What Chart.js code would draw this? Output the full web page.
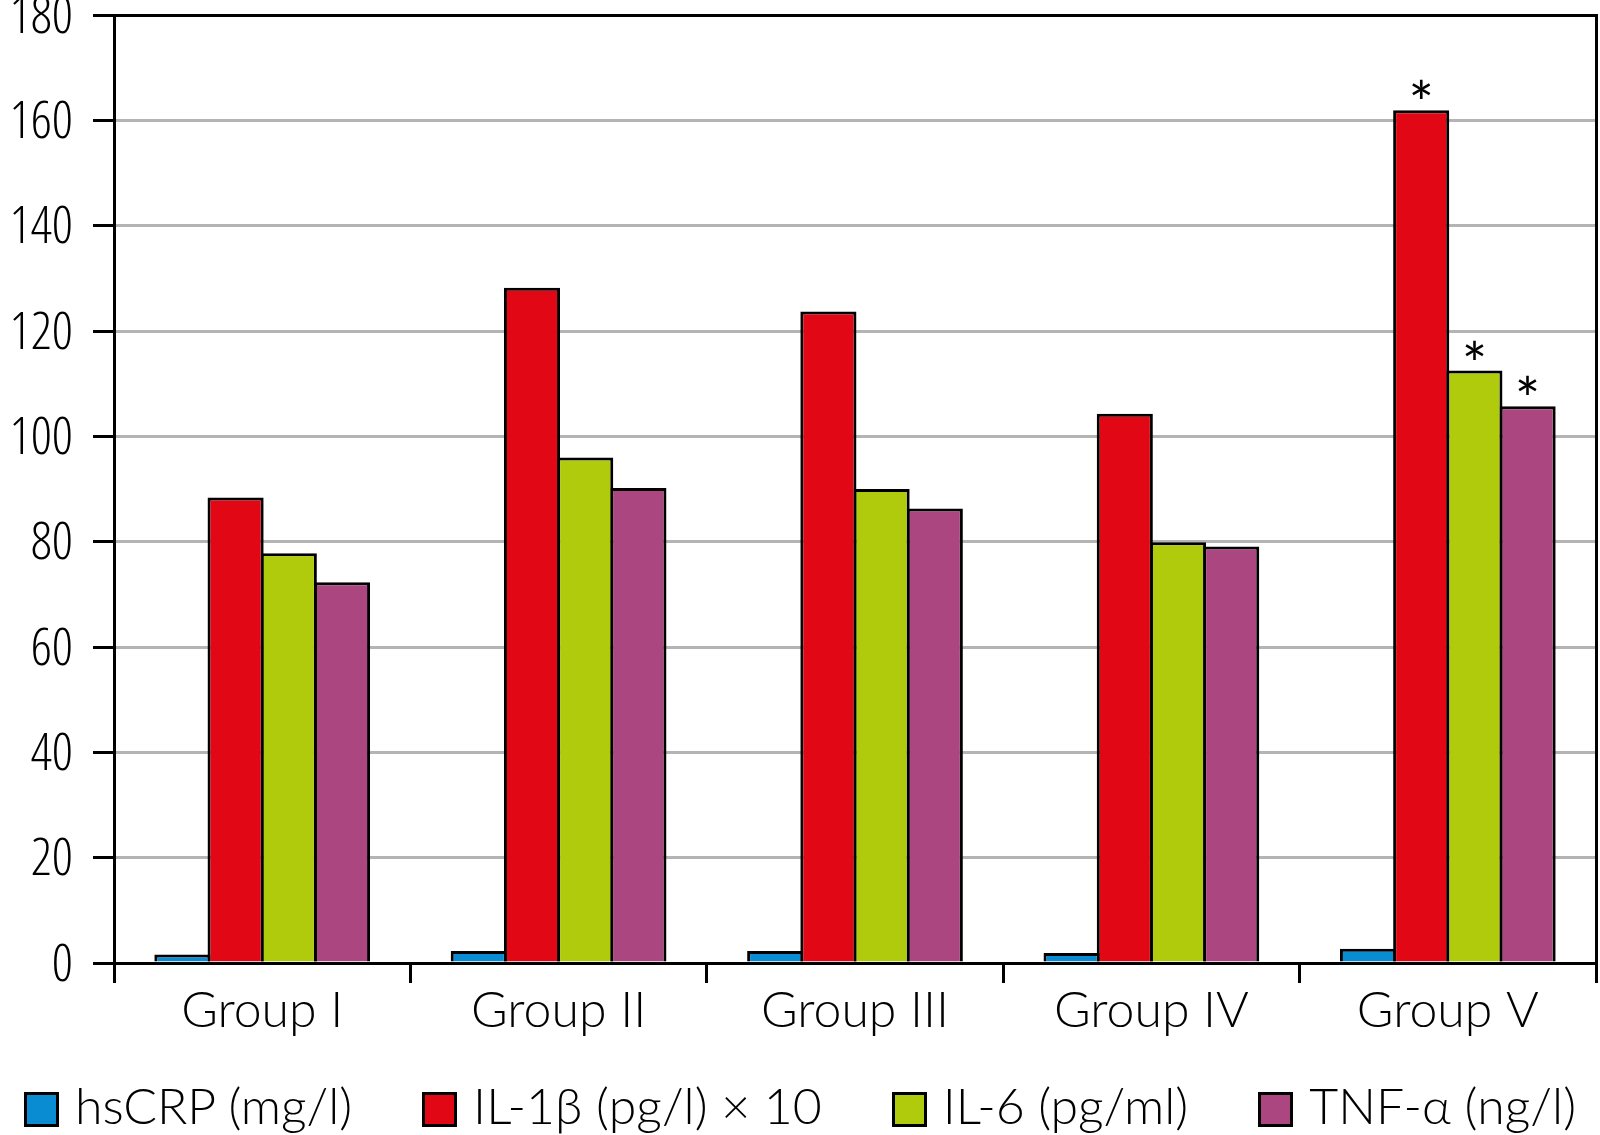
<!DOCTYPE html>
<html>
<head>
<meta charset="utf-8">
<script src="https://cdn.jsdelivr.net/npm/chart.js@4.4.1/dist/chart.umd.min.js"></script>
<style>
    html, body { margin: 0; padding: 0; background: #fff; }
    #wrap { position: relative; width: 1600px; height: 1135px; }
    #legend {
        position: absolute; left: 0; top: 1078px; width: 1600px; height: 54px;
        display: flex; justify-content: center; align-items: center; gap: 70px;
        font-family: Lato, sans-serif; font-weight: 300; font-size: 50px; line-height: 54px; color: #000;
    }
    .item { display: flex; align-items: center; white-space: nowrap; }
    .box { width: 29px; height: 29px; border: 3px solid #000; margin-right: 16px; margin-top: 8px; }
</style>
</head>
<body>
<div id="wrap">
    <canvas id="myChart" width="1600" height="1135"></canvas>
    <div id="legend"></div>
</div>
<script>
// Values
const groups = ["Group I", "Group II", "Group III", "Group IV", "Group V"];
const hsCRP = [1.6, 2.3, 2.3, 1.9, 2.7];
const il1b = [88.4, 128.2, 123.7, 104.3, 161.9];
const il6 = [77.8, 96.0, 90.0, 79.9, 112.5];
const tnfa = [72.3, 90.2, 86.3, 79.1, 105.7];

// Significance markers (*) above bars
const hsCRPStars = [false, false, false, false, false];
const il1bStars = [false, false, false, false, true];
const il6Stars = [false, false, false, false, true];
const tnfaStars = [false, false, false, false, true];

const seriesLabels = ["hsCRP (mg/l)", "IL-1\u03b2 (pg/l) \u00d7 10", "IL-6 (pg/ml)", "TNF-\u03b1 (ng/l)"];
const seriesColors = ["#0a8cd2", "#e20714", "#b0ca0c", "#ac4681"];

const yMin = 0;
const yMax = 180;
const yStep = 20;

const FONT = "Lato";
const TICK_FONT = "'Open Sans'";
const AREA_BOTTOM = 963;

// Draw the asterisks centred above flagged bars
const starPlugin = {
    id: "stars",
    afterDatasetsDraw(chart) {
        const ctx = chart.ctx;
        ctx.save();
        ctx.font = "400 60px " + FONT;
        ctx.fillStyle = "#000";
        ctx.textAlign = "center";
        ctx.textBaseline = "alphabetic";
        chart.data.datasets.forEach((ds, i) => {
            const meta = chart.getDatasetMeta(i);
            (ds.stars || []).forEach((s, j) => {
                if (!s) return;
                const bar = meta.data[j];
                ctx.fillText("*", bar.x, bar.y + 15);
            });
        });
        ctx.restore();
    }
};

// HTML legend built from the chart's own legend items
const htmlLegend = {
    id: "htmlLegend",
    afterUpdate(chart) {
        const box = document.getElementById("legend");
        box.innerHTML = "";
        const items = chart.options.plugins.legend.labels.generateLabels(chart);
        items.forEach(item => {
            const el = document.createElement("div");
            el.className = "item";
            const sw = document.createElement("span");
            sw.className = "box";
            sw.style.background = item.fillStyle;
            const tx = document.createElement("span");
            tx.textContent = item.text;
            el.appendChild(sw);
            el.appendChild(tx);
            box.appendChild(el);
        });
    }
};

const allValues = [hsCRP, il1b, il6, tnfa];
const allStars = [hsCRPStars, il1bStars, il6Stars, tnfaStars];

// bars slightly wider than their slot so neighbours share one border
const datasets = allValues.map((vals, i) => ({
    label: seriesLabels[i],
    data: vals,
    stars: allStars[i],
    backgroundColor: seriesColors[i],
    borderColor: "#000",
    borderWidth: 3,
    categoryPercentage: 0.718,
    barPercentage: 1.055
}));

const ctx = document.getElementById("myChart").getContext("2d");
const chart = new Chart(ctx, {
    type: "bar",
    data: { labels: groups, datasets },
    plugins: [starPlugin, htmlLegend],
    options: {
        responsive: false,
        animation: false,
        layout: { padding: { top: 15, right: 4, left: 0, bottom: 0 } },
        plugins: {
            tooltip: { enabled: false },
            legend: { display: false }
        },
        scales: {
            x: {
                grid: {
                    display: true,
                    drawOnChartArea: false,
                    tickLength: 20,
                    tickColor: "#000",
                    lineWidth: 3,
                    offset: true
                },
                border: { display: true, color: "#000", width: 3 },
                ticks: {
                    font: { family: FONT, size: 50, weight: 300, lineHeight: 1.2 },
                    color: "#000",
                    padding: -2,
                    maxRotation: 0
                },
                afterFit(scale) {
                    scale.height = 1135 - AREA_BOTTOM;
                }
            },
            y: {
                min: yMin,
                max: yMax,
                ticks: {
                    stepSize: yStep,
                    font: { family: TICK_FONT, size: 52, weight: "300 condensed" },
                    color: "#000",
                    padding: 20,
                    labelOffset: 3
                },
                grid: {
                    color: c => (c.tick && (c.tick.value === yMax || c.tick.value === yMin)) ? "#000" : "#b4b4b4",
                    lineWidth: 3,
                    tickColor: "#000",
                    tickLength: 21
                },
                border: { display: true, color: "#000", width: 3 },
                afterFit(scale) {
                    scale.width = 114;
                    scale.paddingTop = 0;
                    scale.paddingBottom = 0;
                }
            },
            yRight: {
                position: "right",
                min: yMin,
                max: yMax,
                ticks: { display: false },
                grid: { display: false },
                border: { display: true, color: "#000", width: 3 },
                afterFit(scale) {
                    scale.width = 0;
                    scale.paddingTop = 0;
                    scale.paddingBottom = 0;
                }
            }
        }
    }
});
</script>
</body>
</html>
